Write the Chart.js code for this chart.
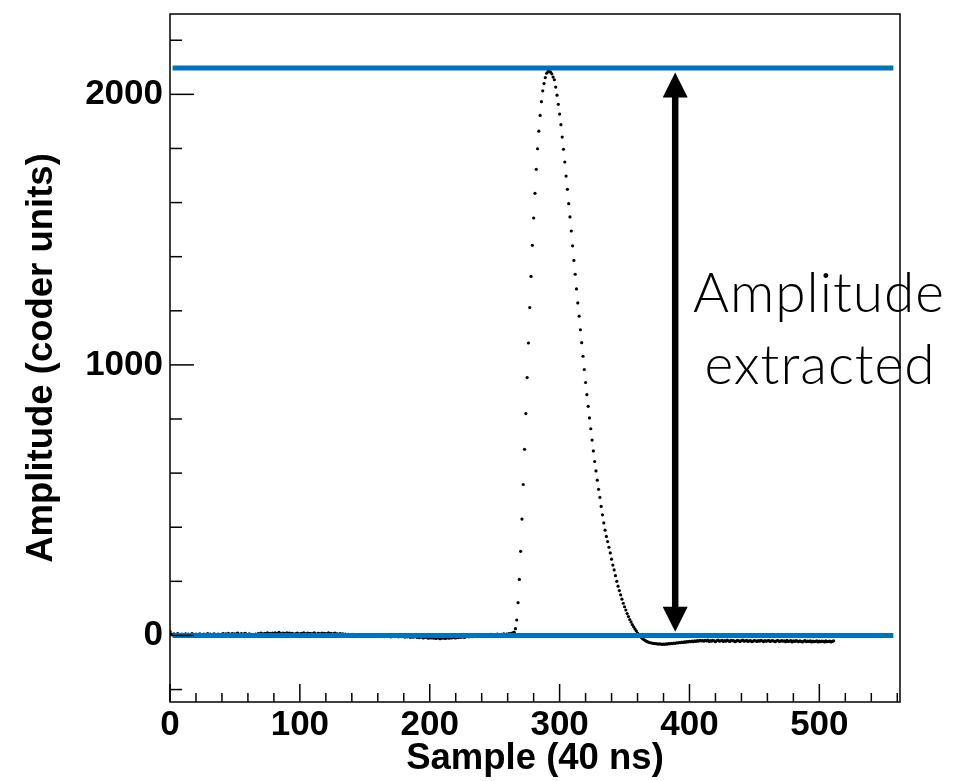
<!DOCTYPE html>
<html>
<head>
<meta charset="utf-8">
<script src="https://cdn.jsdelivr.net/npm/chart.js@4.4.1/dist/chart.umd.min.js"></script>
<style>
  html, body { margin: 0; padding: 0; background: #ffffff; }
  #wrap { width: 955px; height: 781px; position: relative; }
</style>
</head>
<body>
<div id="wrap"><canvas id="c" width="955" height="781"></canvas></div>
<script>
// ---------------- DATA ----------------
// Samples 0..265 : pedestal (mostly hidden behind the blue zero line)
const amplitudeBaseline = [
  15, 5, 3, 6, 2, 4, 7, 3, 1, 5, 4, 2, 6, 3, 5, 1, 4, 7, 2, 3,
  5, 2, 4, 6, 1, 3, 5, 4, 2, 7, 3, 5, 1, 4, 6, 2, 3, 5, 4, 1,
  5, 7, 3, 6, 4, 8, 2, 5, 7, 4, 6, 3, 9, 5, 4, 7, 2, 6, 8, 4,
  3, 6, 1, 4, 0, 2, 5, 3, 7, 4, 9, 6, 5, 8, 7, 10, 6, 8, 5, 9,
  7, 10, 6, 8, 11, 7, 5, 9, 8, 6, 10, 7, 9, 5, 8, 6, 4, 7, 9, 6,
  5, 8, 6, 10, 7, 4, 9, 6, 8, 5, 7, 10, 6, 4, 8, 7, 5, 9, 6, 8,
  7, 5, 10, 6, 8, 4, 7, 9, 5, 6, 3, 7, 4, 6, 2, 5, 3, 4, 1, 3,
  2, 4, 0, 3, 1, 2, -1, 1, 3, 0, 2, -2, 1, -1, 0, 2, -2, 0, -1, 1,
  -1, -3, 0, -2, 1, -4, -1, -2, -3, 0, -5, -2, -1, -4, -3, -2, -5, -3, -4, -2,
  -4, -6, -3, -5, -2, -7, -4, -6, -5, -3, -7, -5, -8, -4, -6, -9, -7, -5, -8, -10,
  -7, -9, -6, -10, -8, -11, -7, -9, -12, -8, -10, -7, -11, -9, -8, -10, -6, -9, -7, -8,
  -9, -6, -8, -5, -7, -4, -6, -7, -4, -2, -5, -3, -1, -4, -2, 0, -3, -1, 1, -2,
  0, 2, -1, 1, 3, 0, 2, 4, 1, 3, 0, 2, 5, 1, 3, 4, 2, 6, 3, 5,
  4, 7, 5, 8, 10, 12
];
// Samples 266..360 : the pulse
const amplitudePulse = [
  25, 57, 121, 207, 311, 430, 558, 688, 820, 953, 1081, 1212, 1327, 1442, 1543,
  1634, 1723, 1799, 1864, 1922, 1973, 2013, 2040, 2062, 2078, 2084, 2086, 2082,
  2076, 2064, 2054, 2027, 1997, 1963, 1927, 1888, 1842, 1797, 1750, 1698, 1649,
  1596, 1547, 1495, 1440, 1386, 1335, 1281, 1229, 1180, 1130, 1082, 1032, 983,
  935, 890, 847, 804, 764, 722, 682, 643, 608, 574, 540, 510, 477, 446, 416, 389,
  366, 347, 326, 305, 282, 260, 242, 221, 200, 182, 166, 150, 134, 119, 106, 94,
  81, 70, 59, 50, 40, 32, 24, 17, 9
];
// Samples 361..511 : undershoot and tail
const amplitudeTail = [
  3, -3, -8, -12, -16, -19, -22, -24, -26, -27,
  -28, -29, -30, -30, -31, -32, -31, -32, -33, -32,
  -33, -31, -32, -30, -31, -29, -30, -28, -29, -27,
  -28, -26, -27, -25, -26, -24, -25, -23, -24, -22,
  -23, -21, -23, -20, -22, -19, -21, -18, -20, -19,
  -21, -18, -20, -17, -22, -19, -21, -18, -20, -23,
  -19, -17, -21, -20, -18, -22, -19, -21, -17, -20,
  -22, -18, -20, -19, -23, -21, -18, -20, -22, -19,
  -17, -21, -20, -18, -22, -20, -19, -23, -21, -18,
  -20, -22, -19, -21, -18, -20, -23, -19, -21, -20,
  -18, -22, -20, -19, -21, -23, -20, -18, -22, -21,
  -19, -21, -20, -23, -18, -22, -21, -19, -24, -20,
  -22, -19, -21, -23, -20, -22, -24, -21, -19, -23,
  -21, -22, -20, -24, -21, -23, -22, -20, -24, -21,
  -23, -21, -22, -24, -20, -23, -22, -21, -24, -22, -20
];
const amplitude = amplitudeBaseline.concat(amplitudePulse, amplitudeTail);
const sampleNumber = amplitude.map((_, i) => i);

// Reference levels (blue lines) and their sample extent
const levelValues = [2097, 0];
const levelSampleRange = [2, 557];

// Axis ranges and tick labels
const xRange = [0, 562.1];
const yRange = [-246, 2297];
const xTickLabels = [0, 100, 200, 300, 400, 500];
const yTickLabels = [0, 1000, 2000];
const xMinorStep = 20;
const yMinorStep = 200;

// Annotation: double arrow + label
const arrowSample = 389;
const arrowRange = [14, 2081];
const annotationLines = ['Amplitude', 'extracted'];

// ---------------- CHART ----------------
Chart.defaults.font.family = "'Liberation Sans', Arial, Helvetica, sans-serif";
Chart.defaults.color = '#000';

const BLUE = '#0072BC';

const framePlugin = {
  id: 'rootFrame',
  afterDraw(chart) {
    const { ctx, chartArea: a, scales: { x, y } } = chart;
    ctx.save();
    ctx.strokeStyle = '#000';
    ctx.lineWidth = 1.5;
    // inner ticks, bottom axis
    for (let v = xRange[0]; v <= xRange[1] + 1e-6; v += xMinorStep) {
      const px = x.getPixelForValue(v);
      const major = Math.abs(v % 100) < 1e-6;
      const len = major ? 18 : 9;
      ctx.beginPath();
      ctx.moveTo(px, a.bottom);
      ctx.lineTo(px, a.bottom - len);
      ctx.stroke();
    }
    // inner ticks, left axis
    const yStart = Math.ceil(yRange[0] / yMinorStep) * yMinorStep;
    for (let v = yStart; v <= yRange[1] + 1e-6; v += yMinorStep) {
      const py = y.getPixelForValue(v);
      const major = Math.abs(v % 1000) < 1e-6;
      const len = major ? 24 : 12;
      ctx.beginPath();
      ctx.moveTo(a.left, py);
      ctx.lineTo(a.left + len, py);
      ctx.stroke();
    }
    // frame
    ctx.lineWidth = 1.5;
    ctx.strokeRect(a.left, a.top, a.right - a.left, a.bottom - a.top);

    // double arrow
    const ax = x.getPixelForValue(arrowSample);
    const yTop = y.getPixelForValue(arrowRange[1]);
    const yBot = y.getPixelForValue(arrowRange[0]);
    const head = 25, halfW = 12.5;
    ctx.fillStyle = '#000';
    ctx.lineWidth = 6.5;
    ctx.beginPath();
    ctx.moveTo(ax, yTop + head - 2);
    ctx.lineTo(ax, yBot - head + 2);
    ctx.stroke();
    ctx.beginPath();
    ctx.moveTo(ax, yTop);
    ctx.lineTo(ax - halfW, yTop + head);
    ctx.lineTo(ax + halfW, yTop + head);
    ctx.closePath();
    ctx.fill();
    ctx.beginPath();
    ctx.moveTo(ax, yBot);
    ctx.lineTo(ax - halfW, yBot - head);
    ctx.lineTo(ax + halfW, yBot - head);
    ctx.closePath();
    ctx.fill();

    // label text
    ctx.font = "300 55px Lato, 'Open Sans', sans-serif";
    if ('letterSpacing' in ctx) ctx.letterSpacing = '1px';
    ctx.textAlign = 'center';
    ctx.textBaseline = 'alphabetic';
    ctx.fillText(annotationLines[0], 819, 312);
    ctx.fillText(annotationLines[1], 820, 384);
    ctx.restore();
  }
};

const noPad = s => { s.paddingTop = 0; s.paddingBottom = 0; s.paddingLeft = 0; s.paddingRight = 0; };

const ctx = document.getElementById('c').getContext('2d');
new Chart(ctx, {
  type: 'scatter',
  data: {
    datasets: [
      {
        label: 'level high',
        type: 'line',
        data: levelSampleRange.map(s => ({ x: s, y: levelValues[0] })),
        borderColor: BLUE, borderWidth: 5, pointRadius: 0, fill: false,
        order: 0
      },
      {
        label: 'level zero',
        type: 'line',
        data: levelSampleRange.map(s => ({ x: s, y: levelValues[1] })),
        borderColor: BLUE, borderWidth: 5, pointRadius: 0, fill: false,
        order: 0
      },
      {
        label: 'samples',
        data: sampleNumber.map((s, i) => ({ x: s, y: amplitude[i] })),
        pointRadius: 1.6,
        pointBackgroundColor: '#000',
        pointBorderWidth: 0,
        showLine: false,
        order: 1
      }
    ]
  },
  options: {
    responsive: false,
    animation: false,
    layout: { padding: { top: 14, right: 55, left: 0, bottom: 0 } },
    plugins: { legend: { display: false }, tooltip: { enabled: false } },
    scales: {
      x: {
        type: 'linear',
        min: xRange[0], max: xRange[1],
        grid: { display: false, drawTicks: false },
        border: { display: false },
        afterBuildTicks: s => { s.ticks = xTickLabels.map(v => ({ value: v })); },
        afterFit: s => { s.height = 79; noPad(s); },
        ticks: {
          font: { size: 35, weight: 'bold' }, color: '#000', padding: 2,
          maxRotation: 0, autoSkip: false,
          callback: v => String(v)
        },
        title: {
          display: true, text: 'Sample (40 ns)', color: '#000',
          font: { size: 36.5, weight: 'bold' }, padding: { top: 0, bottom: 0 }
        }
      },
      y: {
        type: 'linear',
        min: yRange[0], max: yRange[1],
        grid: { display: false, drawTicks: false },
        border: { display: false },
        afterBuildTicks: s => { s.ticks = yTickLabels.map(v => ({ value: v })); },
        afterFit: s => { s.width = 170; noPad(s); },
        ticks: {
          font: { size: 35, weight: 'bold' }, color: '#000', padding: 7,
          autoSkip: false,
          callback: v => String(v)
        },
        title: {
          display: true, text: 'Amplitude (coder units)', color: '#000',
          font: { size: 36.5, weight: 'bold' }, padding: { top: 20, bottom: 0 }
        }
      }
    }
  },
  plugins: [framePlugin]
});
</script>
</body>
</html>
